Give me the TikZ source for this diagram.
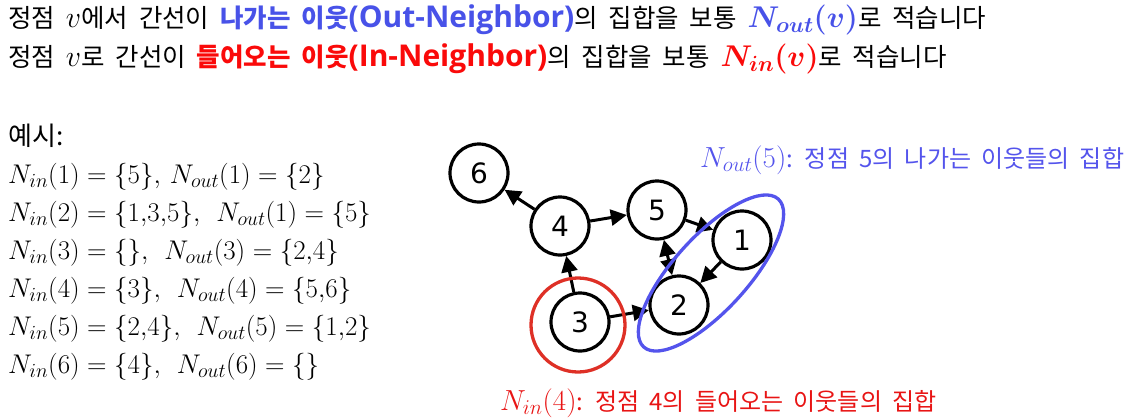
\RequirePackage{fix-cm}
\documentclass[tikz,border=0pt]{standalone}
\usepackage{fontspec}
\usepackage{bm}
\setmainfont[WordSpace=1.9]{Noto Sans CJK KR}
\newfontfamily\nodefont{DejaVu Sans}
\newfontfamily\latfont{Open Sans}
\DeclareMathSizes{27}{27}{20}{14}
\DeclareMathSizes{29}{29}{21}{15}
\DeclareMathSizes{30}{30}{22}{16}
\usetikzlibrary{arrows.meta}
\definecolor{hblue}{RGB}{72,82,232}
\definecolor{hred}{RGB}{250,10,10}
\definecolor{cred}{RGB}{222,48,38}
\definecolor{cblue}{RGB}{84,84,236}
\definecolor{lred}{RGB}{232,20,20}
\newcommand{\hmath}[1]{{\fontsize{30}{30}\selectfont$#1$}}
\newcommand{\lmath}[1]{{\fontsize{29}{30}\selectfont$#1$}}
\newcommand{\latin}[1]{{\latfont\fontsize{30}{30}\selectfont#1}}
\tikzset{
  vtx/.style={circle,draw=black,line width=3.2pt,minimum size=58pt,inner sep=0pt,font=\nodefont\fontsize{28}{30}\selectfont},
  tip/.tip={Triangle[length=16pt,width=16pt]},
  edge/.style={line width=3pt,-tip},
  bedge/.style={line width=3pt,tip-tip},
  txt/.style={anchor=west,inner sep=0pt,font=\fontsize{25.5}{30}\selectfont},
  mtxt/.style={anchor=west,inner sep=0pt,font=\fontsize{27}{30}\selectfont},
  lbl/.style={anchor=west,inner sep=0pt,font=\fontsize{24}{28}\selectfont},
}
\begin{document}
\begin{tikzpicture}[x=1pt,y=-1pt]
\useasboundingbox (0,0) rectangle (1138,418);
% header
\node[txt] (h1) at (8,20) {정점 \hmath{v}에서 간선이 {\color{hblue}\bfseries 나가는 이웃\latin{(Out-Neighbor)}}의 집합을 보통 {\color{hblue}\hmath{\bm{N_{out}(v)}}}로 적습니다};
\node[txt] (h2) at (8,59) {정점 \hmath{v}로 간선이 {\color{hred}\bfseries 들어오는 이웃\latin{(In-Neighbor)}}의 집합을 보통 {\color{hred}\hmath{\bm{N_{in}(v)}}}로 적습니다};
% examples
\node[txt,font=\fontsize{26}{30}\selectfont] (ex) at (8,136) {예시:};
\node[mtxt] (e1) at (8,177) {$N_{in}(1)=\{5\},\,N_{out}(1)=\{2\}$};
\node[mtxt] (e2) at (8,215) {$N_{in}(2)=\{1{,}3{,}5\},\ N_{out}(1)=\{5\}$};
\node[mtxt] (e3) at (8,253) {$N_{in}(3)=\{\},\ N_{out}(3)=\{2{,}4\}$};
\node[mtxt] (e4) at (8,291) {$N_{in}(4)=\{3\},\ N_{out}(4)=\{5{,}6\}$};
\node[mtxt] (e5) at (8,329) {$N_{in}(5)=\{2{,}4\},\ N_{out}(5)=\{1{,}2\}$};
\node[mtxt] (e6) at (8,367) {$N_{in}(6)=\{4\},\ N_{out}(6)=\{\}$};
% graph
\node[vtx] (n6) at (479,173) {6};
\node[vtx] (n4) at (560,226) {4};
\node[vtx] (n5) at (657,210) {5};
\node[vtx] (n1) at (742,240) {1};
\node[vtx] (n2) at (679,305) {2};
\node[vtx] (n3) at (580,322) {3};
\draw[edge] (n4) -- (n6);
\draw[edge] (n4) -- (n5);
\draw[edge] (n5) -- (n1);
\draw[bedge] (n5) -- (n2);
\draw[edge] (n1) -- (n2);
\draw[edge] (n3) -- (n2);
\draw[edge] (n3) -- (n4);
% highlight shapes
\coordinate (rc) at (578,325);
\draw[cred,line width=3.3pt] (rc) circle[radius=47];
\coordinate (bc) at (711,273);
\draw[cblue,line width=3.3pt,rotate around={47.7:(bc)}] (bc) ellipse[x radius=100,y radius=37];
% labels
\node[lbl,text=cblue] (lo) at (700,160) {\lmath{N_{out}(5)}: 정점 5의 나가는 이웃들의 집합};
\node[lbl,text=lred] (li) at (500,403) {\lmath{N_{in}(4)}: 정점 4의 들어오는 이웃들의 집합};
\end{tikzpicture}
\end{document}
